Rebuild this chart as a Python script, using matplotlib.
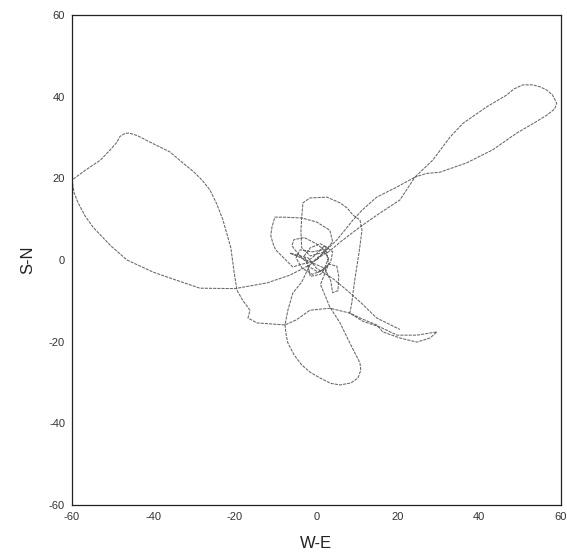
import matplotlib.pyplot as plt

plt.rcParams["axes.unicode_minus"] = False
plt.rcParams["font.family"] = ["Liberation Sans", "DejaVu Sans"]

# track, W-E / S-N, in plot units
# central tangle
TANGLE_X = [0.0, 1.5, 2.5, 1.0, -1.5, -3.0, -2.0, 0.5, 2.0, 3.0, 1.5, -1.0, -4.0, -5.0, -3.5,
            -1.0, 1.5, 3.5, 4.0, 2.0, -0.5, -2.5, -4.5, -6.0, -5.5, -3.0, 0.0, 2.5, 3.0, 1.0,
            -1.5, -2.0, 0.5, 2.0]
TANGLE_Y = [0.0, 1.5, 3.0, 4.0, 3.0, 1.0, -1.5, -3.0, -2.0, 0.5, 2.5, 2.0, 2.5, 0.5, -2.0,
            -3.5, -2.5, -0.5, 2.0, 3.5, 1.0, -0.5, 1.5, 3.5, 5.0, 5.5, 4.0, 2.0, -1.0, -3.5,
            -4.0, -1.5, 0.5, 1.5]

# north-east figure-eight loop
NE_X = [3.0, 6.0, 10.7, 15.6, 20.5, 24.2, 27.0, 30.3, 36.9, 43.3, 49.2, 53.0, 56.6, 58.5,
        59.0, 58.0, 56.6, 55.0, 53.1, 50.7, 48.5, 46.7, 41.8, 36.0, 32.8, 28.6, 24.2, 19.8,
        14.8, 11.2, 9.0, 5.0, 2.0]
NE_Y = [2.0, 4.5, 8.1, 11.5, 14.7, 20.3, 21.2, 21.5, 23.8, 27.0, 31.1, 33.3, 35.5, 37.0,
        38.4, 40.4, 41.6, 42.4, 42.9, 42.9, 41.9, 40.4, 37.5, 33.5, 30.1, 24.5, 20.3, 17.9,
        15.4, 12.2, 9.8, 4.9, 2.0]

# two lobes above the centre
LOBE_X = [-1.0, -3.5, -5.8, -8.2, -10.0, -10.7, -11.2, -10.9, -10.2, -8.2, -3.6, 0.1, 3.3,
          4.0, 2.0, -1.5, -3.6, -3.8, -3.6, -3.3, -1.6, 2.6, 5.8, 7.5, 9.0, 10.7, 11.2, 10.5,
          9.4, 9.0, 8.7, 8.2]
LOBE_Y = [-0.5, -1.0, -1.7, 0.7, 2.5, 4.2, 6.0, 8.1, 10.5, 10.5, 10.3, 9.3, 7.3,
          4.5, 2.0, 1.0, 3.0, 7.0, 10.5, 14.0, 15.2, 15.4, 14.0, 12.8, 11.0, 9.8, 7.3, 2.0,
          -5.0, -8.0, -10.5, -13.0]

# eastern tail and the arch back to the west
TAIL_X = [11.4, 15.6, 19.8, 24.7, 29.6, 27.9, 24.7, 20.5, 16.3, 14.8, 11.4, 8.2, 3.3, -1.6,
          -5.0, -7.7, -14.6, -16.8, -16.3, -18.0, -19.5]
TAIL_Y = [-15.0, -16.4, -18.4, -18.4, -17.6, -19.1, -20.1, -19.1, -17.6, -15.9, -14.5, -13.0,
          -11.8, -12.3, -14.7, -15.9, -15.4, -14.2, -12.3, -10.0, -7.4]

# big western loop
WEST_X = [-19.5, -20.2, -21.0, -22.0, -23.0, -24.5, -26.1, -28.0, -30.0, -32.8, -36.0, -40.9,
          -44.0, -46.0, -47.0, -48.2, -49.0, -50.7, -53.0, -57.0, -60.0, -59.5, -58.5, -56.8,
          -54.8, -50.5, -46.5, -40.0, -34.2, -28.6, -20.0, -12.1, -6.5, -1.6]
WEST_Y = [-7.4, -3.0, 3.0, 6.5, 10.0, 13.8, 17.1, 19.5, 21.5, 23.8, 26.5, 28.9,
          30.5, 31.1, 31.0, 30.3, 28.8, 26.9, 24.5, 21.8, 19.6, 16.5, 14.0, 10.8,
          8.0, 3.5, 0.0, -3.0, -5.0, -6.9, -7.0, -5.6, -3.7, -1.2]

# southern loop, small eastern loop and the diagonal to the tail
SOUTH_X = [-3.6, -5.8, -7.0, -7.7, -7.4, -7.0, -5.5, -3.6, -1.5, 0.9, 3.5, 5.8, 8.5, 10.2,
           10.9, 10.7, 8.2, 5.8, 3.3, 1.0, 3.0, 5.0, 5.5, 5.3, 4.0, 3.5, 2.0, -6.5, -2.0, 0.0,
           4.0, 7.5, 11.0, 14.8, 20.5]
SOUTH_Y = [-5.4, -8.1, -12.3, -15.9, -18.5, -20.3, -23.2, -25.7, -27.5, -28.9, -30.2, -30.6,
           -30.1, -28.9, -27.0, -25.2, -20.3, -15.4, -11.5, -6.0, -1.0, -1.5, -4.0, -7.5, -8.0,
           -5.0, -2.0, 1.7, 0.5, -2.0, -4.5, -7.4, -10.5, -14.2, -17.0]

TICKS = [-60, -40, -20, 0, 20, 40, 60]

fig = plt.figure(figsize=(5.67, 5.58), dpi=100)
ax = fig.add_axes([0.127, 0.095, 0.862, 0.878])

xs = TANGLE_X + NE_X + LOBE_X + TAIL_X + WEST_X + SOUTH_X
ys = TANGLE_Y + NE_Y + LOBE_Y + TAIL_Y + WEST_Y + SOUTH_Y
ax.plot(xs, ys, color="#666666", linewidth=0.75, linestyle=(0, (3, 1)))

ax.set_xlim(-60, 60)
ax.set_ylim(-60, 60)
ax.set_xticks(TICKS)
ax.set_yticks(TICKS)
ax.tick_params(length=0, labelsize=8, colors="#333333", pad=5)
for s in ax.spines.values():
    s.set_linewidth(0.9)
    s.set_color("#222222")

ax.set_xlabel("W-E", fontsize=12, color="#222222", labelpad=10)
ax.set_ylabel("S-N", fontsize=12, color="#222222", labelpad=10)

fig.savefig("out.png", facecolor="white")
